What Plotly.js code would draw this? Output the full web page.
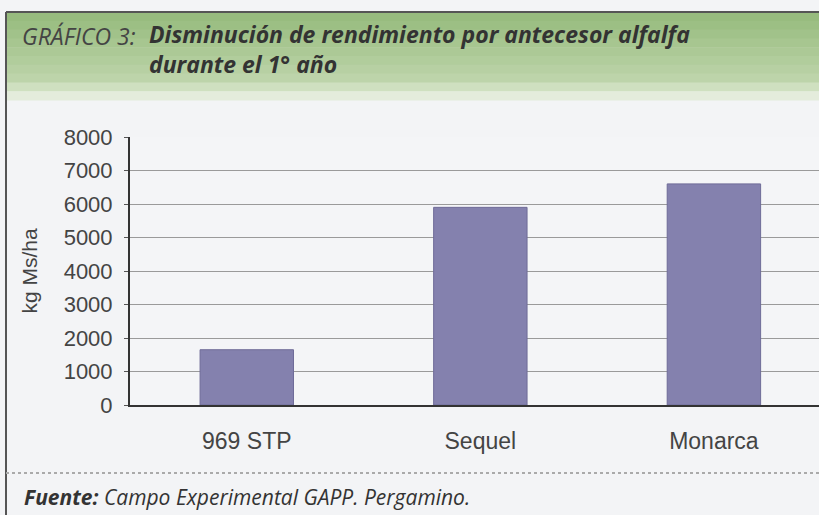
<!DOCTYPE html>
<html>
<head>
<meta charset="utf-8">
<script src="https://cdn.plot.ly/plotly-3.0.1.min.js"></script>
<style>
  html, body { margin: 0; padding: 0; background: #f3f4f6; }
  #chart { width: 819px; height: 515px; }
</style>
</head>
<body>
<div id="chart"></div>
<script>
// rendimiento por antecesor alfalfa, 1er año

var variedades = ['969 STP', 'Sequel', 'Monarca'];
var rendimiento = [1650, 5900, 6600];   // kg Ms/ha
var yTicks = [0, 1000, 2000, 3000, 4000, 5000, 6000, 7000, 8000];

// plot area in pixels: x 130..819, y 137..405
var L = 130, R = 819, T = 137, B = 405;
function px(x) { return (x - L) / (R - L); }
function py(y) { return (B - y) / (B - T); }

var shapes = [];
// green header band, drawn as strips to fake the gradient
var greens = ['#97bb7e', '#9cbf84', '#a1c28a', '#a7c690', '#acc996', '#b1cd9c', '#b7d0a3', '#bdd4aa', '#cfe0c0', '#e4ecdc'];
var hTop = 12, hBot = 100, step = (hBot - hTop) / greens.length;
for (var i = 0; i < greens.length; i++) {
  shapes.push({
    type: 'rect', xref: 'paper', yref: 'paper', layer: 'below',
    x0: px(6), x1: px(819), y0: py(hTop + i * step), y1: py(hTop + (i + 1) * step + 0.5),
    fillcolor: greens[i], line: { width: 0 }
  });
}
// frame (left + top)
shapes.push({ type: 'line', xref: 'paper', yref: 'paper', x0: px(6), x1: px(6), y0: py(12), y1: py(515), line: { color: '#555', width: 2 } });
shapes.push({ type: 'line', xref: 'paper', yref: 'paper', x0: px(6), x1: px(819), y0: py(12), y1: py(12), line: { color: '#555', width: 2 } });
// separator above the source
shapes.push({ type: 'line', xref: 'paper', yref: 'paper', x0: px(6), x1: px(819), y0: py(473), y1: py(473), line: { color: '#aaa', width: 2, dash: 'dot' } });

var data = [{
  type: 'bar',
  x: variedades,
  y: rendimiento,
  width: 0.4,
  marker: { color: '#8481ae', line: { color: '#6f6c98', width: 1 } },
  hoverinfo: 'x+y'
}];

var layout = {
  width: 819, height: 515,
  margin: { l: L, r: 0, t: T, b: 515 - B, pad: 0 },
  paper_bgcolor: '#f3f4f6',
  plot_bgcolor: '#f4f5f7',
  showlegend: false,
  font: { family: 'Liberation Sans, Arial, sans-serif', color: '#444' },
  xaxis: {
    type: 'category',
    range: [-0.5, 2.45],
    showgrid: false,
    showline: true, linecolor: '#333', linewidth: 2,
    ticks: '', ticklabelstandoff: 14,
    tickfont: { size: 23, color: '#444' },
    fixedrange: true
  },
  yaxis: {
    range: [0, 8000],
    tickvals: yTicks,
    ticktext: yTicks.map(String),
    showgrid: true, gridcolor: '#9a9a9a', gridwidth: 1,
    showline: true, linecolor: '#333', linewidth: 2,
    ticks: 'outside', ticklen: 4, tickcolor: '#555',
    ticklabelstandoff: 7,
    tickfont: { size: 22, color: '#444' },
    zeroline: false,
    title: { text: 'kg Ms/ha', font: { size: 21, color: '#444' }, standoff: 20 },
    fixedrange: true
  },
  shapes: shapes,
  annotations: [
    {
      xref: 'paper', yref: 'paper', x: px(20), y: py(36), xanchor: 'left', yanchor: 'middle',
      showarrow: false,
      text: '<i>GRÁFICO 3:</i>',
      font: { family: 'Open Sans, sans-serif', size: 23, color: '#444' }
    },
    {
      xref: 'paper', yref: 'paper', x: px(147), y: py(16), xanchor: 'left', yanchor: 'top',
      showarrow: false, align: 'left',
      text: '<b><i>Disminución de rendimiento por antecesor alfalfa<br>durante el 1° año</i></b>',
      font: { family: 'Open Sans, sans-serif', size: 23, color: '#333' }
    },
    {
      xref: 'paper', yref: 'paper', x: px(22), y: py(497), xanchor: 'left', yanchor: 'middle',
      showarrow: false,
      text: '<b><i>Fuente:</i></b><i> Campo Experimental GAPP. Pergamino.</i>',
      font: { family: 'Open Sans, sans-serif', size: 21, color: '#333' }
    }
  ]
};

Plotly.newPlot('chart', data, layout, { displayModeBar: false, staticPlot: true });
</script>
</body>
</html>
